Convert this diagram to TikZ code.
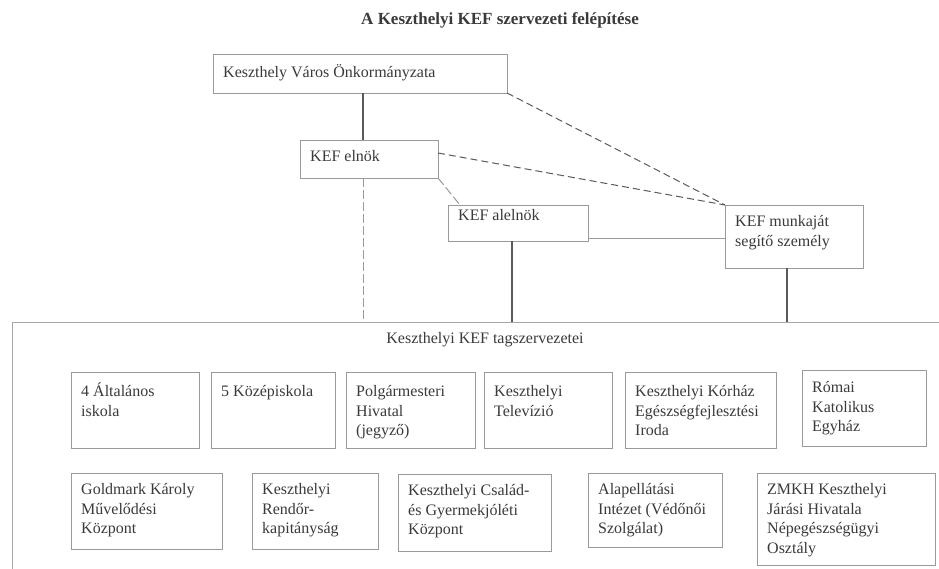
\documentclass[tikz,border=0pt]{standalone}
\usepackage{fontspec}
\setmainfont{Liberation Serif}
\definecolor{boxc}{HTML}{9A9A9A}
\definecolor{linec}{HTML}{5A5A5A}
\definecolor{txtc}{HTML}{3A3A3A}
\definecolor{framec}{HTML}{A8A8A8}
\newcommand\orgbox[7][10]{%
  \node[bx, minimum width=#5pt, minimum height=#6pt] (#2) at (#3,#4) {};
  \node[txt] (#2t) at ([shift={(10,#1)}]#2.north west) {\strut #7};}
\begin{document}
\begin{tikzpicture}[x=1pt,y=-1pt,
  bx/.style={draw=boxc, line width=0.9pt, anchor=north west, inner sep=0pt, outer sep=0pt},
  txt/.style={anchor=north west, inner sep=0pt, align=left, text=txtc, font=\fontsize{16}{19.5}\selectfont},
  conn/.style={draw=linec, line width=1.1pt},
  sconn/.style={draw=boxc, line width=1pt},
  ddconn/.style={draw=boxc, line width=1pt, dash pattern=on 9pt off 3pt},
  dconn/.style={draw=linec, line width=1pt, dash pattern=on 7pt off 4pt},
  frame/.style={draw=framec, line width=1pt}]
\useasboundingbox (0,0) rectangle (939,569);
\fill[white] (0,0) rectangle (939,569);

% title
\node[text=txtc, font=\bfseries\fontsize{17}{20}\selectfont] (title) at (500,20) {A Keszthelyi KEF szervezeti felépítése};

% top hierarchy
\orgbox[10]{onk}{213}{54}{294}{39}{Keszthely Város Önkormányzata}
\orgbox[8]{eln}{300}{140}{138}{38}{KEF elnök}
\orgbox[2]{alel}{448}{205}{140}{36}{KEF alelnök}
\orgbox[8]{munk}{725}{205}{138}{63}{KEF munkaját\\segítő személy}

% frame of member organisations
\coordinate (frtl) at (12,322);
\coordinate (frtr) at (939,322);
\coordinate (frbl) at (12,569);
\draw[frame] (frtr) -- (frtl) -- (frbl);
\node[text=txtc, font=\fontsize{16}{19.5}\selectfont] (tag) at (485,340) {Keszthelyi KEF tagszervezetei};

% row 1
\orgbox[11]{r1a}{71}{372}{128}{76}{4 Általános\\iskola}
\orgbox[11]{r1b}{211}{372}{124}{76}{5 Középiskola}
\orgbox[11]{r1c}{346}{372}{129}{76}{Polgármesteri\\Hivatal\\(jegyző)}
\orgbox[11]{r1d}{484}{372}{128}{76}{Keszthelyi\\Televízió}
\orgbox[11]{r1e}{625}{372}{151}{76}{Keszthelyi Kórház\\Egészségfejlesztési\\Iroda}
\orgbox[9]{r1f}{802}{370}{124}{76}{Római\\Katolikus\\Egyház}

% row 2
\orgbox[8]{r2a}{71}{473}{151}{76}{Goldmark Károly\\Művelődési\\Központ}
\orgbox[8]{r2b}{252}{473}{126}{76}{Keszthelyi\\Rendőr-\\kapitányság}
\orgbox[8]{r2c}{398}{474}{153}{77}{Keszthelyi Család-\\és Gyermekjóléti\\Központ}
\orgbox[8]{r2d}{588}{473}{134}{74}{Alapellátási\\Intézet (Védőnői\\Szolgálat)}
\orgbox[8]{r2e}{757}{473}{178}{92}{ZMKH Keszthelyi\\Járási Hivatala\\Népegészségügyi\\Osztály}

% connectors
\draw[conn] ([xshift=-6pt]eln.north |- onk.south) -- ([xshift=-6pt]eln.north);
\draw[ddconn] ([xshift=-6pt]eln.south) -- ([xshift=-6pt]eln.south |- frtl);
\draw[ddconn] (eln.south east) -- ([xshift=12pt]alel.north west);
\draw[conn] ([xshift=-6pt]alel.south) -- ([xshift=-6pt]alel.south |- frtl);
\draw[conn] ([xshift=-7pt]munk.south) -- ([xshift=-7pt]munk.south |- frtl);
\draw[sconn] ([yshift=2pt]alel.south east) -- ([yshift=2pt]alel.south east -| munk.west);
\draw[dconn] ([yshift=6pt]eln.east) -- (munk.north west);
\draw[dconn] (onk.south east) -- (munk.north west);
\end{tikzpicture}
\end{document}
